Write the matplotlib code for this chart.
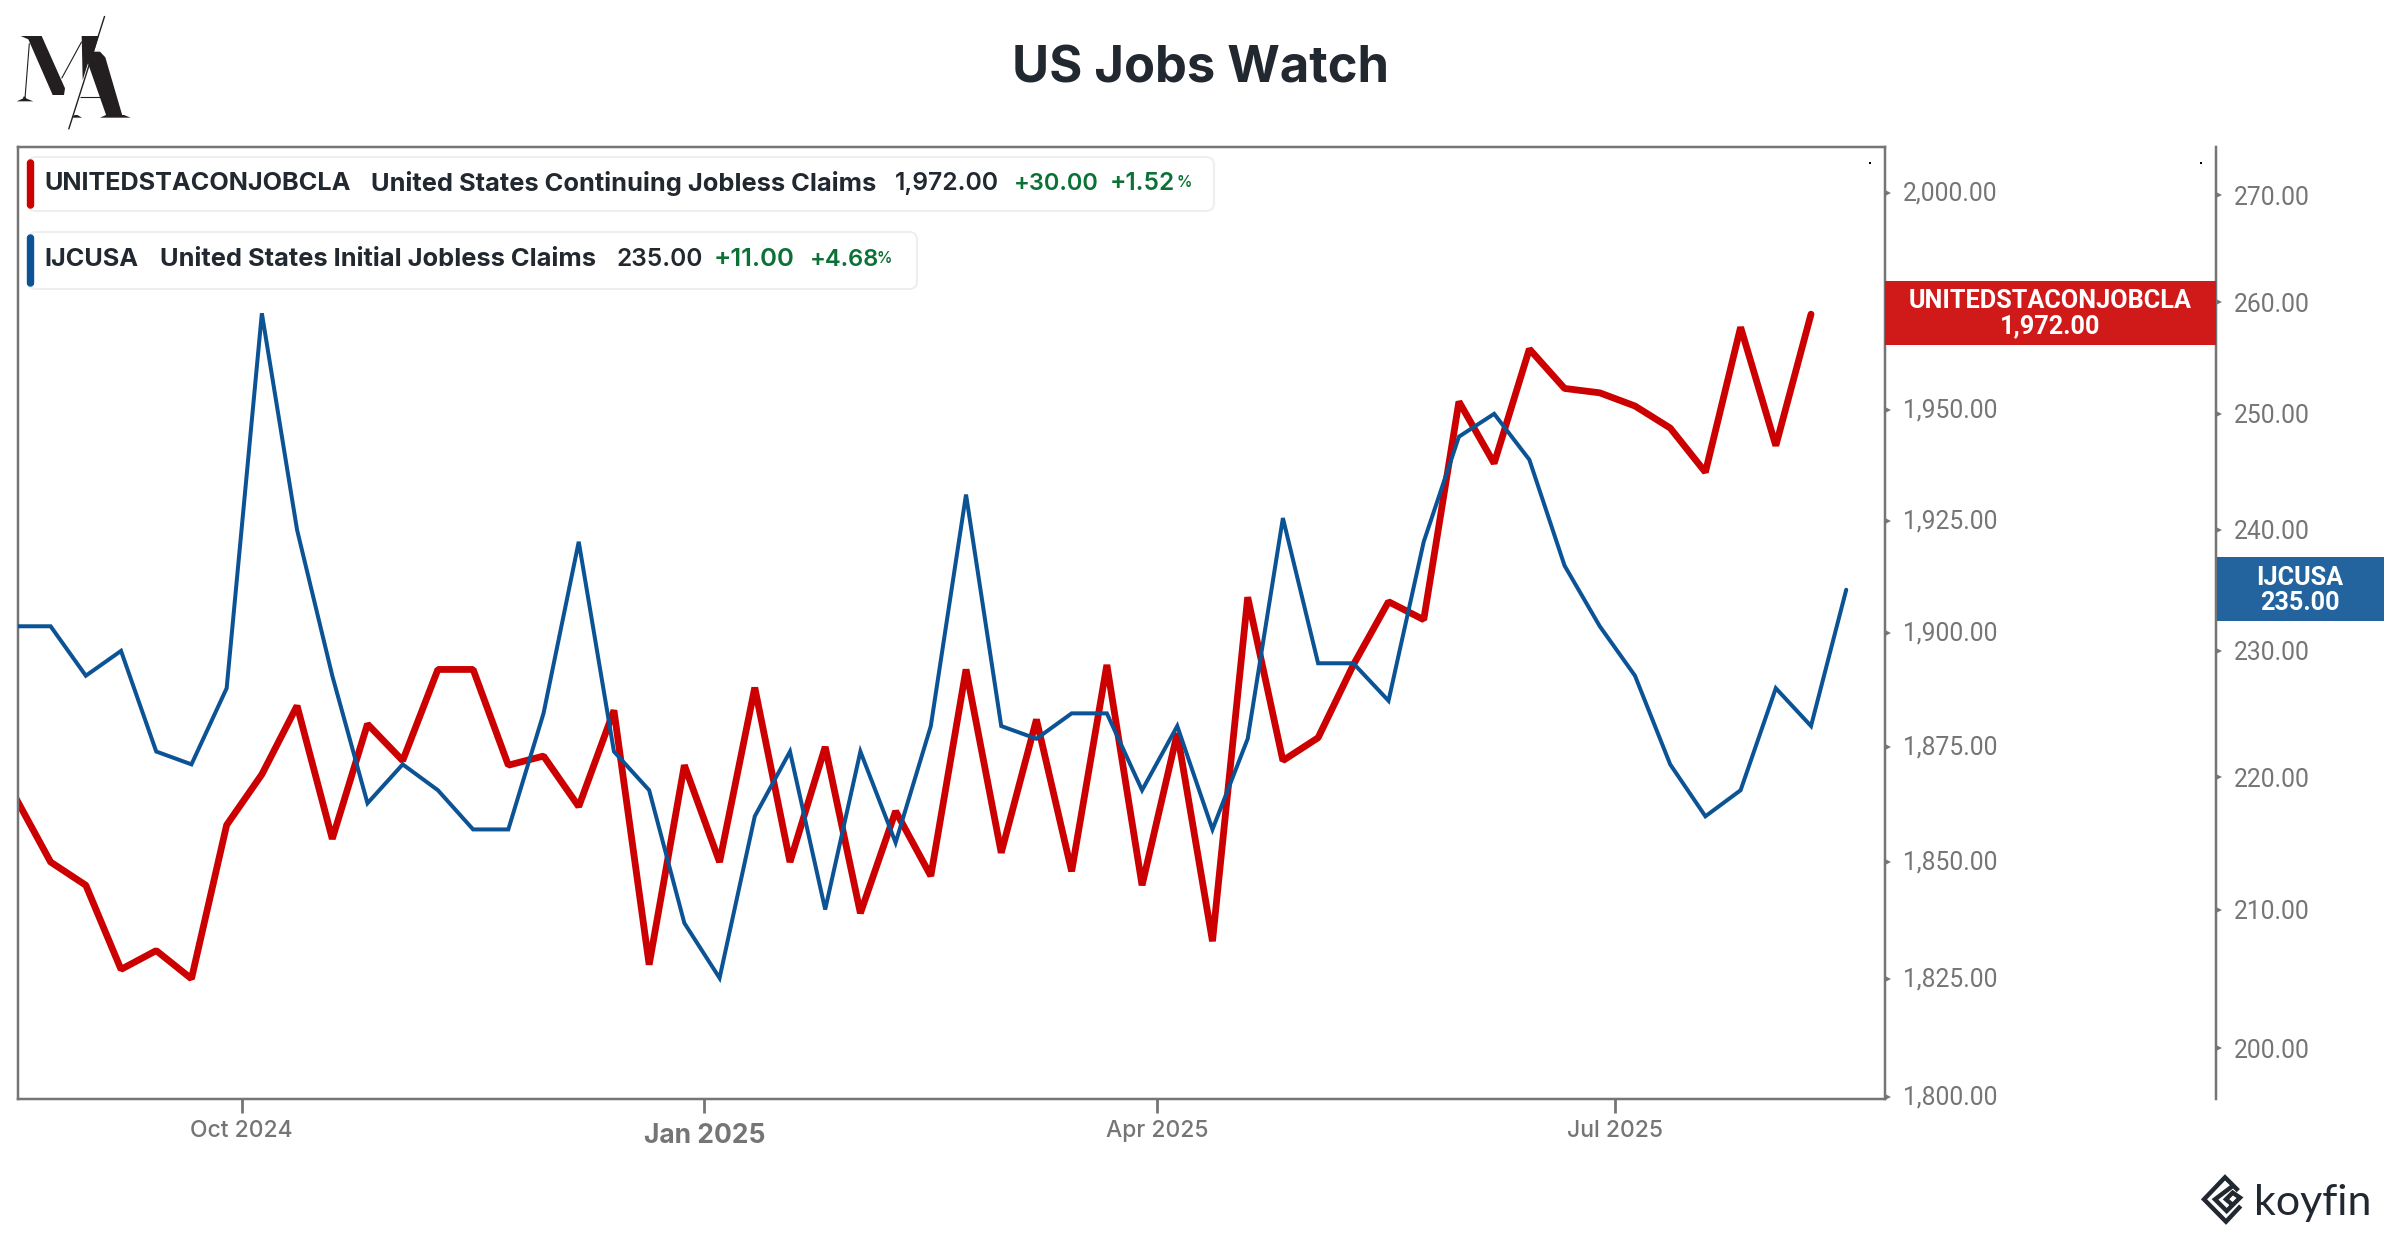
import pandas as pd
import matplotlib
matplotlib.use('Agg')
import matplotlib.pyplot as plt
from matplotlib.patches import FancyBboxPatch, Polygon, Rectangle
from matplotlib.ticker import NullLocator
from matplotlib.transforms import ScaledTranslation

# weekly data, continuing claims stop one week before initial claims
dates = pd.date_range('2024-08-17', '2025-08-16', freq='7D')

continuing_claims = [
    1864, 1850, 1845, 1827, 1831, 1825, 1858, 1869, 1884, 1855, 1880, 1872, 1892,
    1892, 1871, 1873, 1862, 1883, 1828, 1871, 1850, 1888, 1850, 1875, 1839, 1861,
    1847, 1892, 1852, 1881, 1848, 1893, 1845, 1878, 1833, 1908, 1872, 1877, 1893,
    1907, 1903, 1952, 1938, 1964, 1955, 1954, 1951, 1946, 1936, 1969, 1942, 1972,
]
initial_claims = [
    232, 232, 228, 230, 222, 221, 227, 259, 240, 228, 218, 221, 219, 216, 216, 225,
    239, 222, 219, 209, 205, 217, 222, 210, 222, 215, 224, 243, 224, 223, 225, 225,
    219, 224, 216, 223, 241, 229, 229, 226, 239, 248, 250, 246, 237, 232, 228, 221,
    217, 219, 227, 224, 235,
]

left_ticks = [1800, 1825, 1850, 1875, 1900, 1925, 1950, 2000]
left_labels = ['1,800.00', '1,825.00', '1,850.00', '1,875.00', '1,900.00',
               '1,925.00', '1,950.00', '2,000.00']
right_ticks = [200, 210, 220, 230, 240, 250, 260, 270]
right_labels = ['200.00', '210.00', '220.00', '230.00', '240.00', '250.00', '260.00', '270.00']
x_ticks = pd.to_datetime(['2024-10-01', '2025-01-01', '2025-04-01', '2025-07-01'])
x_labels = ['Oct 2024', 'Jan 2025', 'Apr 2025', 'Jul 2025']

RED = '#cc0000'
BLUE = '#0b5394'
GREY = '#757575'
DARK = '#212830'
GREEN = '#0b7135'
W, H = 2400, 1240
PX = 0.72  # points per pixel at dpi 100

plt.rcParams['font.family'] = ['Inter', 'DejaVu Sans']
fig = plt.figure(figsize=(W / 100, H / 100), dpi=100, facecolor='white')

L, R, T, B = 17.5, 1885, 147, 1099
ax = fig.add_axes([L / W, 1 - B / H, (R - L) / W, (B - T) / H])
ax2 = ax.twinx()
ax.set_zorder(1)
ax2.set_zorder(2)
ax2.patch.set_visible(False)

# bevel keeps the sharp red peaks flat topped as in the reference
ax.plot(dates[:len(continuing_claims)], continuing_claims, color=RED, lw=6.8 * PX,
        solid_joinstyle='bevel', solid_capstyle='round')
ax2.plot(dates, initial_claims, color=BLUE, lw=4 * PX,
         solid_joinstyle='miter', solid_capstyle='round')

for a in (ax, ax2):
    a.set_yscale('log')
    a.yaxis.set_minor_locator(NullLocator())
    a.yaxis.tick_right()
ax.set_ylim(1799.6, 2010.8)
ax2.set_ylim(196.46, 274.6)
ax.set_xlim(pd.Timestamp('2024-08-17 10:00'), pd.Timestamp('2025-08-23 17:00'))

ax.set_yticks(left_ticks, left_labels)
ax2.set_yticks(right_ticks, right_labels)
ax.yaxis.set_minor_locator(NullLocator())
ax2.yaxis.set_minor_locator(NullLocator())
for a in (ax, ax2):
    a.tick_params(axis='y', length=0, pad=18 * PX, labelsize=17.7, labelcolor=GREY,
                  labelfontfamily='Roboto')
    for lab in a.get_yticklabels():
        lab.set_transform(lab.get_transform() + ScaledTranslation(0, 0.02, fig.dpi_scale_trans))

ax.set_xticks(x_ticks, x_labels)
ax.tick_params(axis='x', length=10, width=2, color=GREY, labelcolor=GREY, labelsize=16.5, pad=5)
for lab in ax.get_xticklabels():
    lab.set_fontweight('medium')
    if lab.get_text() == 'Jan 2025':
        lab.set_fontweight('bold')
        lab.set_fontsize(19)
        lab.set_transform(lab.get_transform() + ScaledTranslation(0, -0.03, fig.dpi_scale_trans))

for side in ax.spines:
    ax.spines[side].set_color(GREY)
    ax.spines[side].set_linewidth(2.5 * PX)
for side in ('left', 'top', 'bottom'):
    ax2.spines[side].set_visible(False)
ax2.spines['right'].set_color(GREY)
ax2.spines['right'].set_linewidth(2.5 * PX)
ax2.spines['right'].set_position(('outward', (2216 - R) * PX))

# little triangle ticks on both price scales
ax.plot([1.0018] * len(left_ticks), left_ticks, '>', ms=5, color=GREY, mew=0,
        transform=ax.get_yaxis_transform(), clip_on=False)
ax2.plot([1.0018 + (2216 - R) / (R - L)] * len(right_ticks), right_ticks, '>', ms=5, color=GREY, mew=0,
         transform=ax2.get_yaxis_transform(), clip_on=False)

# overlay in pixel coordinates for title, legend chips, price labels and logos
ov = fig.add_axes([0, 0, 1, 1], zorder=5)
ov.set_xlim(0, W)
ov.set_ylim(H, 0)
ov.axis('off')

ov.text(1200, 69, 'US Jobs Watch', fontsize=36.5, fontweight='bold', color=DARK, ha='center', va='center')

ov.plot([1870, 2201], [162.5, 162.5], 's', ms=1.6, color='black', mew=0)


def chip(x0, x1, y0, y1, color, parts, y):
    ov.add_patch(FancyBboxPatch((x0, y0), x1 - x0, y1 - y0, boxstyle='round,pad=0,rounding_size=8',
                                fc='white', ec='#eeeeee', lw=2 * PX))
    ov.add_patch(FancyBboxPatch((x0 - 0.5, y0 + 3), 6, y1 - y0 - 6, boxstyle='round,pad=0,rounding_size=3',
                                fc=color, ec=color, lw=1))
    for px, s, c, size, weight in parts:
        ov.text(px, y, s, color=c, fontsize=size, fontweight=weight, ha='left', va='center_baseline')


chip(28, 1214, 157, 211, RED, [
    (44, 'UNITEDSTACONJOBCLA', DARK, 18.2, 'bold'),
    (371, 'United States Continuing Jobless Claims', DARK, 18.35, 'bold'),
    (895, '1,972.00', DARK, 17.8, 'semibold'),
    (1014, '+30.00', GREEN, 17, 'semibold'),
    (1110, '+1.52', GREEN, 17.6, 'semibold'),
    (1177, '%', GREEN, 11, 'semibold'),
], 181)
chip(28, 917, 232, 289, BLUE, [
    (44, 'IJCUSA', DARK, 18.2, 'bold'),
    (160, 'United States Initial Jobless Claims', DARK, 18.35, 'bold'),
    (616, '235.00', DARK, 17.6, 'semibold'),
    (714, '+11.00', GREEN, 18.5, 'semibold'),
    (810, '+4.68', GREEN, 17, 'semibold'),
    (877, '%', GREEN, 11, 'semibold'),
], 257)

# price labels
ov.add_patch(Rectangle((1885, 281), 331, 64, fc='#d01a1a', ec='none'))
ov.add_patch(Rectangle((2217, 557), 167, 64, fc='#23649f', ec='none'))
for x, y, s in [(2050, 301, 'UNITEDSTACONJOBCLA'), (2050, 326, '1,972.00'),
                (2300, 578, 'IJCUSA'), (2300, 603, '235.00')]:
    ov.text(x, y, s, color='white', fontsize=18.2, fontweight='bold', family='Roboto', ha='center', va='center')

# MA logo
ink = '#231f20'
shapes = [
    [(62, 108), (125, 108), (195, 265), (192, 285), (158, 285), (85, 118)],
    [(245, 108), (296, 108), (282, 155), (300, 155), (316, 172), (368, 350), (320, 350), (264, 190), (248, 240)],
    [(300, 353), (392, 353), (372, 345), (318, 345)],
    [(215, 353), (246, 353), (232, 345), (224, 345)],
    [(50, 304), (100, 304), (80, 296), (72, 288), (68, 296)],
]
for s in shapes:
    ov.add_patch(Polygon([(px / 3, py / 3) for px, py in s], fc=ink, ec='none'))
for (x0, y0), (x1, y1), lw in [((314, 48), (206, 388), 1.0), ((88, 130), (75, 295), 0.8),
                               ((185, 235), (245, 125), 0.8), ((240, 290), (305, 290), 0.8)]:
    ov.plot([x0 / 3, x1 / 3], [y0 / 3, y1 / 3], color=ink, lw=lw, solid_capstyle='butt')

# koyfin logo
for path in ([(145, 92), (105, 52), (42, 118), (108, 185), (152, 138)],
             [(128, 78), (75, 118), (110, 153), (150, 113), (128, 98), (108, 118), (128, 135)]):
    ov.plot([2190 + p[0] / 3 for p in path], [1160 + p[1] / 3 for p in path], color=DARK, lw=3.4 * PX * 1.3,
            solid_joinstyle='miter', solid_capstyle='butt')
ov.text(2254, 1200, 'koyfin', color=DARK, fontsize=31, family='Lato', ha='left', va='center_baseline')

fig.savefig('out.png', dpi=100, facecolor='white')
